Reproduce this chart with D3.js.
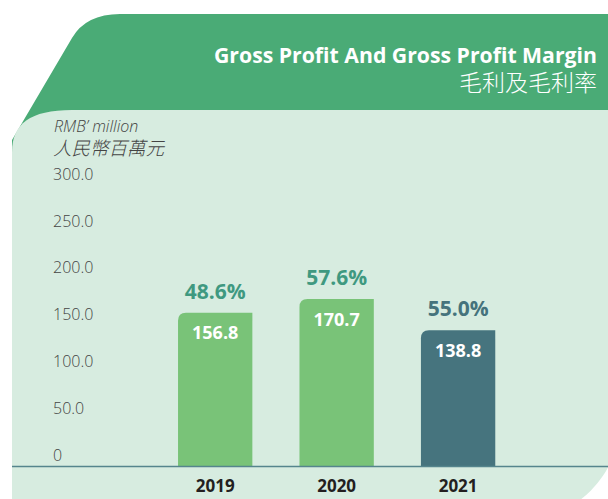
<!DOCTYPE html>
<html>
  <head>
    <meta charset="utf-8" />
    <script src="https://d3js.org/d3.v7.min.js"></script>
    <style>
      body {
        margin: 0;
        background: #fff;
      }
      text {
        font-family: "Open Sans", "Noto Sans", sans-serif;
      }
      .cjk {
        font-family: "Noto Sans CJK TC", "Noto Sans CJK SC", sans-serif;
      }
    </style>
  </head>
  <body>
    <svg id="chart" width="608" height="499"></svg>
    <script>
      // data
      var years = ["2019", "2020", "2021"];
      var grossProfit = [156.8, 170.7, 138.8];
      var margins = [48.6, 57.6, 55.0];
      var yTicks = [0, 50, 100, 150, 200, 250, 300];

      var svg = d3.select("#chart");

      // header band (dark green) with slanted left side
      svg
        .append("path")
        .attr("d", "M12,140 L72,38 Q86,14 120,14 L620,14 L620,200 L12,200 Z")
        .attr("fill", "#4aab76");

      // light panel with rounded corners
      svg
        .append("path")
        .attr(
          "d",
          "M12,152 C12,124 30,110 72,110 L620,110 L620,420 A100,100 0 0 1 520,520 L12,520 Z"
        )
        .attr("fill", "#d7ece0");

      // titles
      svg
        .append("text")
        .attr("x", 597)
        .attr("y", 63)
        .attr("text-anchor", "end")
        .attr("fill", "#fff")
        .attr("font-weight", 700)
        .attr("font-size", 21)
        .attr("textLength", 383)
        .attr("lengthAdjust", "spacingAndGlyphs")
        .text("Gross Profit And Gross Profit Margin");

      svg
        .append("text")
        .attr("class", "cjk")
        .attr("x", 597)
        .attr("y", 91)
        .attr("text-anchor", "end")
        .attr("fill", "#fff")
        .attr("font-weight", 300)
        .attr("font-size", 23)
        .text("毛利及毛利率");

      // unit label
      svg
        .append("text")
        .attr("x", 54)
        .attr("y", 132)
        .attr("fill", "#444")
        .attr("font-style", "italic")
        .attr("font-weight", 300)
        .attr("font-size", 16)
        .text("RMB’ million");

      svg
        .append("text")
        .attr("class", "cjk")
        .attr("x", 53)
        .attr("y", 155)
        .attr("fill", "#444")
        .attr("font-style", "italic")
        .attr("font-weight", 300)
        .attr("font-size", 18.5)
        .text("人民幣百萬元");

      // scales
      var x = d3
        .scaleBand()
        .domain(years)
        .range([117.3, 556])
        .paddingInner(0.388)
        .paddingOuter(0.5);

      var y = d3.scaleLinear().domain([0, 300]).range([466, 172.6]);

      // tick labels sit a bit above their value in the original
      var yLab = d3.scaleLinear().domain([0, 300]).range([460, 179.3]);

      var yAxis = svg
        .append("g")
        .attr("transform", "translate(53,0)")
        .call(
          d3
            .axisLeft(yLab)
            .tickValues(yTicks)
            .tickSize(0)
            .tickFormat((d) => (d === 0 ? "0" : d.toFixed(1)))
        );
      yAxis.select(".domain").remove();
      yAxis
        .selectAll("text")
        .attr("x", 0)
        .attr("dy", 0)
        .attr("text-anchor", "start")
        .attr("fill", "#444")
        .attr("font-family", "'Open Sans', sans-serif")
        .attr("font-weight", 300)
        .attr("font-size", 16);

      var data = years.map((yr, i) => ({
        year: yr,
        value: grossProfit[i],
        margin: margins[i],
        last: i === years.length - 1,
      }));

      // bars: only top-left corner rounded
      function barPath(d) {
        var x0 = x(d.year),
          w = x.bandwidth(),
          y0 = y(d.value),
          y1 = y(0),
          r = 8;
        return (
          "M" + x0 + "," + y1 +
          "L" + x0 + "," + (y0 + r) +
          "Q" + x0 + "," + y0 + " " + (x0 + r) + "," + y0 +
          "L" + (x0 + w) + "," + y0 +
          "L" + (x0 + w) + "," + y1 + "Z"
        );
      }

      svg
        .selectAll("path.bar")
        .data(data)
        .enter()
        .append("path")
        .attr("class", "bar")
        .attr("d", barPath)
        .attr("fill", (d) => (d.last ? "#46747e" : "#79c378"));

      // baseline
      svg
        .append("line")
        .attr("x1", 12)
        .attr("x2", 620)
        .attr("y1", 466.5)
        .attr("y2", 466.5)
        .attr("stroke", "#55858d")
        .attr("stroke-width", 1.3);

      // values inside bars
      svg
        .selectAll("text.val")
        .data(data)
        .enter()
        .append("text")
        .attr("class", "val")
        .attr("x", (d) => x(d.year) + x.bandwidth() / 2)
        .attr("y", (d) => y(d.value) + 26.5)
        .attr("text-anchor", "middle")
        .attr("fill", "#fff")
        .attr("font-weight", 700)
        .attr("font-size", 18)
        .text((d) => d.value.toFixed(1));

      // margin labels above bars
      svg
        .selectAll("text.pct")
        .data(data)
        .enter()
        .append("text")
        .attr("class", "pct")
        .attr("x", (d) => x(d.year) + x.bandwidth() / 2)
        .attr("y", (d) => y(d.value) - 14)
        .attr("text-anchor", "middle")
        .attr("fill", (d) => (d.last ? "#45737c" : "#3f9980"))
        .attr("font-weight", 700)
        .attr("font-size", 21)
        .text((d) => d.margin.toFixed(1) + "%");

      // year labels
      var xAxis = svg
        .append("g")
        .attr("transform", "translate(0,466)")
        .call(d3.axisBottom(x).tickSize(0));
      xAxis.select(".domain").remove();
      xAxis
        .selectAll("text")
        .attr("y", 25.7)
        .attr("dy", 0)
        .attr("fill", "#231f20")
        .attr("font-family", "'Open Sans', sans-serif")
        .attr("font-weight", 700)
        .attr("font-size", 17);
    </script>
  </body>
</html>
